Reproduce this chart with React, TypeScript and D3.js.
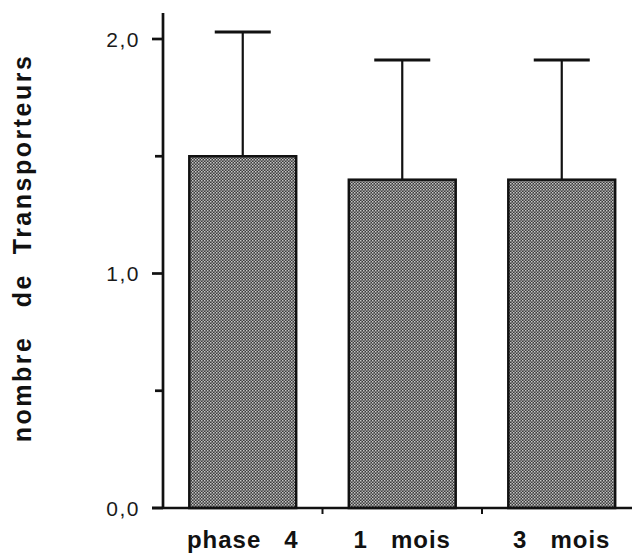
import * as d3 from "d3";
import { useEffect, useRef } from "react";

const categories = ["phase 4", "1 mois", "3 mois"];
const means = [1.5, 1.4, 1.4];
const errorTops = [2.03, 1.91, 1.91];
const majorTicks = [0, 1, 2];
const minorTicks = [0.5, 1.5];
const tickLabels = ["0,0", "1,0", "2,0"];
const yTitle = "nombre   de  Transporteurs";

const W = 632;
const H = 553;
const margin = { left: 163, top: 39, bottom: 45 };
const FONT = "'Liberation Sans', Arial, Helvetica, sans-serif";

const App = () => {
  const svgRef = useRef<SVGSVGElement | null>(null);

  useEffect(() => {
    if (!svgRef.current) return;
    const svg = d3.select(svgRef.current);
    svg.selectAll("*").remove();

    const y0 = H - margin.bottom;
    const y = d3.scaleLinear().domain([0, 2]).range([y0, margin.top]);
    const x = d3
      .scaleBand<string>()
      .domain(categories)
      .range([margin.left, margin.left + 159.5 * 3])
      .padding(0);
    const barW = x.bandwidth() * 0.67;

    // dotted grey fill
    const defs = svg.append("defs");
    const pat = defs
      .append("pattern")
      .attr("id", "dots")
      .attr("patternUnits", "userSpaceOnUse")
      .attr("width", 3)
      .attr("height", 3);
    pat.append("rect").attr("width", 3).attr("height", 3).attr("fill", "#3c3c3c");
    pat.append("rect").attr("width", 1.5).attr("height", 1.5).attr("fill", "#c8c8c8");
    pat
      .append("rect")
      .attr("x", 1.5)
      .attr("y", 1.5)
      .attr("width", 1.5)
      .attr("height", 1.5)
      .attr("fill", "#aaaaaa");

    const data = categories.map((c, i) => ({ c, m: means[i], e: errorTops[i] }));

    // error bars
    const err = svg.append("g").attr("stroke", "#111");
    data.forEach((d) => {
      const cx = (x(d.c) as number) + x.bandwidth() / 2;
      err
        .append("line")
        .attr("x1", cx)
        .attr("x2", cx)
        .attr("y1", y(d.m))
        .attr("y2", y(d.e))
        .attr("stroke-width", 2.2);
      err
        .append("line")
        .attr("x1", cx - 28)
        .attr("x2", cx + 28)
        .attr("y1", y(d.e))
        .attr("y2", y(d.e))
        .attr("stroke-width", 3);
    });

    // bars
    svg
      .append("g")
      .selectAll("rect")
      .data(data)
      .join("rect")
      .attr("x", (d) => (x(d.c) as number) + (x.bandwidth() - barW) / 2)
      .attr("y", (d) => y(d.m))
      .attr("width", barW)
      .attr("height", (d) => y0 - y(d.m))
      .attr("fill", "url(#dots)")
      .attr("stroke", "#111")
      .attr("stroke-width", 2.5);

    // axes
    const ax = svg.append("g").attr("stroke", "#111").attr("stroke-width", 2.7);
    ax.append("line")
      .attr("x1", margin.left)
      .attr("x2", margin.left)
      .attr("y1", 13)
      .attr("y2", y0);
    ax.append("line")
      .attr("x1", margin.left - 11)
      .attr("x2", 645)
      .attr("y1", y0)
      .attr("y2", y0);
    majorTicks.forEach((t) =>
      ax
        .append("line")
        .attr("x1", margin.left - 11)
        .attr("x2", margin.left)
        .attr("y1", y(t))
        .attr("y2", y(t))
    );
    minorTicks.forEach((t) =>
      ax
        .append("line")
        .attr("x1", margin.left - 8)
        .attr("x2", margin.left)
        .attr("y1", y(t))
        .attr("y2", y(t))
    );
    categories.slice(1).forEach((c) =>
      ax
        .append("line")
        .attr("x1", x(c) as number)
        .attr("x2", x(c) as number)
        .attr("y1", y0)
        .attr("y2", y0 + 6)
        .attr("stroke-width", 2)
    );

    // tick labels
    svg
      .append("g")
      .selectAll("text")
      .data(majorTicks)
      .join("text")
      .attr("x", 140)
      .attr("y", (d) => y(d))
      .attr("dy", "0.36em")
      .attr("text-anchor", "end")
      .attr("font-family", FONT)
      .attr("font-size", 21)
      .attr("letter-spacing", 1.5)
      .attr("fill", "#1a1a1a")
      .text((d, i) => tickLabels[i]);

    // category labels
    svg
      .append("g")
      .selectAll("text")
      .data(categories)
      .join("text")
      .attr("x", (d) => (x(d) as number) + x.bandwidth() / 2)
      .attr("y", 548)
      .attr("text-anchor", "middle")
      .attr("font-family", FONT)
      .attr("font-weight", "bold")
      .attr("font-size", 24)
      .attr("letter-spacing", 1)
      .attr("fill", "#111")
      .style("white-space", "pre")
      .text((d) => d.replace(" ", "   "));

    // y title
    svg
      .append("text")
      .attr("transform", `translate(31,248) rotate(-90)`)
      .attr("text-anchor", "middle")
      .attr("font-family", FONT)
      .attr("font-weight", "bold")
      .attr("font-size", 25)
      .attr("letter-spacing", 2.5)
      .attr("fill", "#111")
      .style("white-space", "pre")
      .text(yTitle);
  }, []);

  return (
    <svg
      ref={svgRef}
      width={W}
      height={H}
      style={{ position: "absolute", left: 0, top: 0, background: "#fff" }}
    />
  );
};

export default App;
